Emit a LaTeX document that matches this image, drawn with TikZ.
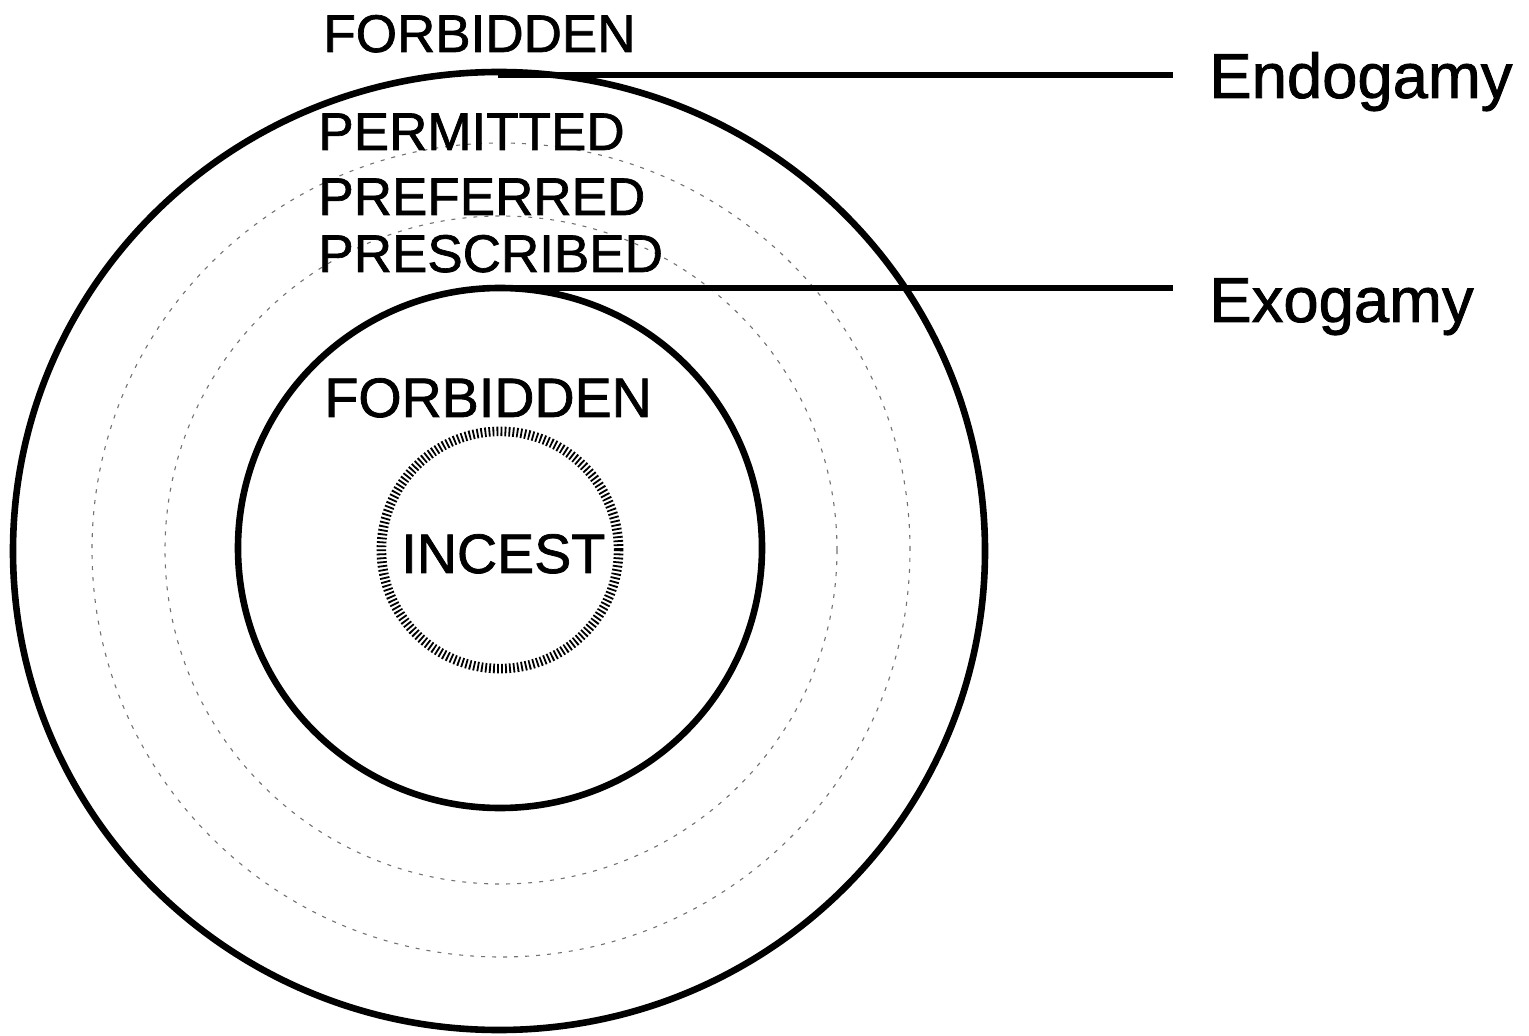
\documentclass[tikz,border=0pt]{standalone}
\usepackage{fontspec}
\setmainfont{Liberation Sans}[RawFeature={embolden=1.3}]
\begin{document}
\begin{tikzpicture}[x=0.5pt,y=-0.5pt,
  solidring/.style={draw=black,line width=3.3pt},
  dotring/.style={draw=black!55,line width=0.55pt,dash pattern=on 2pt off 3.5pt},
  hatchring/.style={draw=black,line width=4.8pt,dash pattern=on 0.9pt off 1.1pt},
  lead/.style={draw=black,line width=3.4pt},
  zone/.style={anchor=base west,inner sep=0pt,font=\fontsize{26.5pt}{30pt}\selectfont},
  izone/.style={anchor=base west,inner sep=0pt,font=\fontsize{27.8pt}{31pt}\selectfont},
  gamy/.style={anchor=base west,inner ysep=0pt,inner xsep=18pt,font=\fontsize{31.7pt}{36pt}\selectfont}
]
\useasboundingbox (0,0) rectangle (1529,1036);
% centres
\coordinate (cO) at (499,551);
\coordinate (cI) at (500,548);
\coordinate (cD) at (501,550);
\coordinate (cX) at (500,550);
% rings
\draw[solidring] (cO) ellipse [x radius=243pt, y radius=239.5pt];
\draw[dotring] (cD) ellipse [x radius=204.5pt, y radius=203.5pt];
\draw[dotring] (cD) ellipse [x radius=168pt, y radius=167pt];
\draw[solidring] (cI) ellipse [x radius=131pt, y radius=130pt];
\draw[hatchring] (cX) circle [radius=59.3pt];
% texts
\node[zone] (forbA) at (323,52) {FORBIDDEN};
\node[zone] (perm) at (318,150) {PERMITTED};
\node[zone] (pref) at (318,215) {PREFERRED};
\node[zone] (presc) at (318,272) {PRESCRIBED};
\node[izone] (forbB) at (324,417) {FORBIDDEN};
\node[izone] (incest) at (401,573) {INCEST};
\node[gamy] (endo) at (1173,98) {Endogamy};
\node[gamy] (exo) at (1173,322) {Exogamy};
% leaders
\coordinate (topO) at (498,75);
\coordinate (topI) at (498,288);
\draw[lead] (topO) -- (topO -| endo.west);
\draw[lead] (topI) -- (topI -| exo.west);
\end{tikzpicture}
\end{document}
